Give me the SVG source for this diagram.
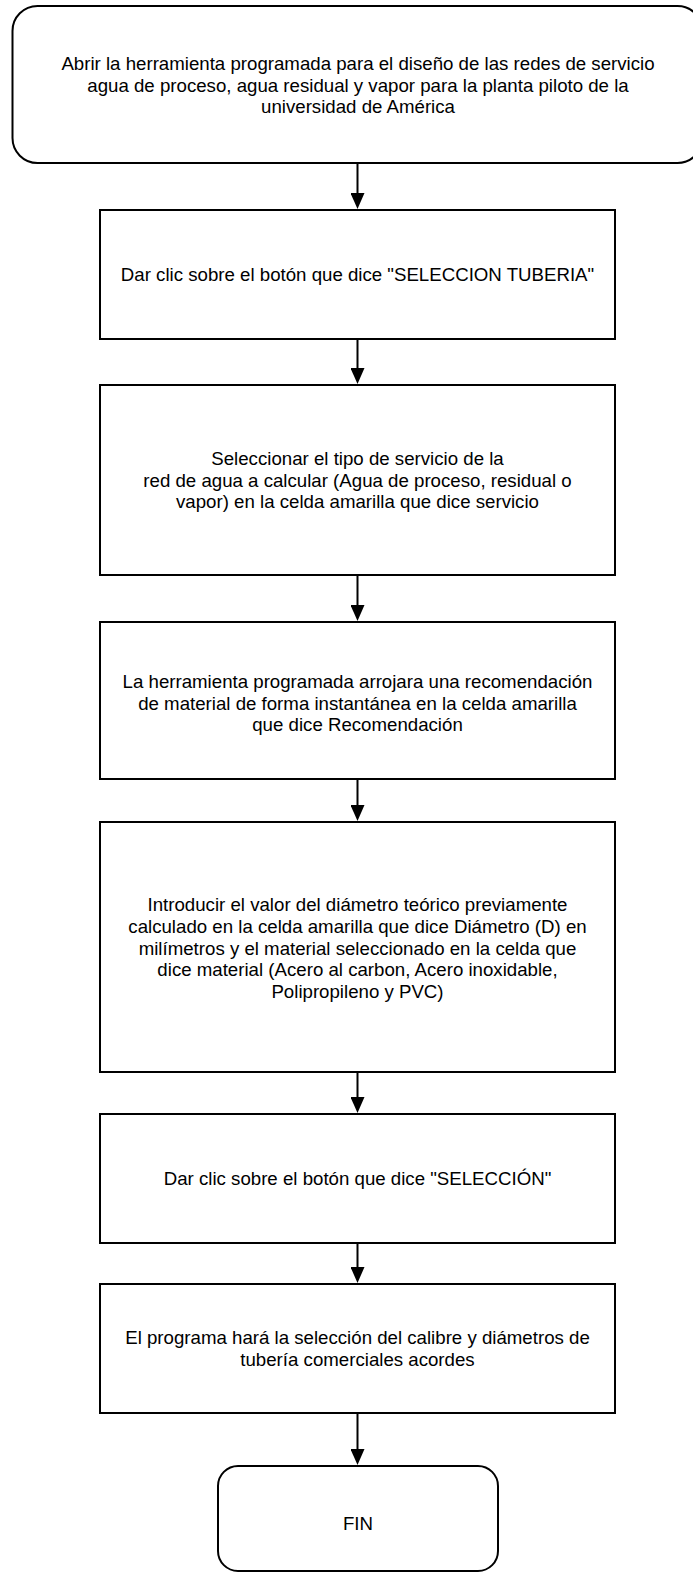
<svg xmlns="http://www.w3.org/2000/svg" width="693" height="1573" viewBox="0 0 693 1573">
<style>
  .box { fill: #ffffff; stroke: #000000; stroke-width: 2; }
  .lbl { font-family: "Liberation Sans", Arial, Helvetica, sans-serif; font-size: 18.67px; fill: #000000; text-anchor: middle; }
  .conn { stroke: #000000; stroke-width: 2; fill: none; marker-end: url(#arrow); }
</style>
<defs>
  <marker id="arrow" markerUnits="userSpaceOnUse" markerWidth="16" markerHeight="14" refX="8" refY="7" orient="auto">
    <path d="M0,0 L16,7 L0,14 Z" fill="#000000"/>
  </marker>
</defs>
<rect width="693" height="1573" fill="#ffffff"/>

<g id="n1">
  <rect class="box" x="12.5" y="6" width="690" height="157" rx="25" ry="25"/>
  <text class="lbl" x="358" y="70">Abrir la herramienta programada para el diseño de las redes de servicio</text>
  <text class="lbl" x="358" y="92">agua de proceso, agua residual y vapor para la planta piloto de la</text>
  <text class="lbl" x="358" y="113">universidad de América</text>
</g>

<g id="n2">
  <rect class="box" x="100" y="210" width="515" height="129"/>
  <text class="lbl" x="357.5" y="281">Dar clic sobre el botón que dice "SELECCION TUBERIA"</text>
</g>

<g id="n3">
  <rect class="box" x="100" y="385" width="515" height="190"/>
  <text class="lbl" x="357.5" y="465">Seleccionar el tipo de servicio de la</text>
  <text class="lbl" x="357.5" y="487">red de agua a calcular (Agua de proceso, residual o</text>
  <text class="lbl" x="357.5" y="508">vapor) en la celda amarilla que dice servicio</text>
</g>

<g id="n4">
  <rect class="box" x="100" y="622" width="515" height="157"/>
  <text class="lbl" x="357.5" y="688">La herramienta programada arrojara una recomendación</text>
  <text class="lbl" x="357.5" y="710">de material de forma instantánea en la celda amarilla</text>
  <text class="lbl" x="357.5" y="731">que dice Recomendación</text>
</g>

<g id="n5">
  <rect class="box" x="100" y="822" width="515" height="250"/>
  <text class="lbl" x="357.5" y="911">Introducir el valor del diámetro teórico previamente</text>
  <text class="lbl" x="357.5" y="933">calculado en la celda amarilla que dice Diámetro (D) en</text>
  <text class="lbl" x="357.5" y="955">milímetros y el material seleccionado en la celda que</text>
  <text class="lbl" x="357.5" y="976">dice material (Acero al carbon, Acero inoxidable,</text>
  <text class="lbl" x="357.5" y="998">Polipropileno y PVC)</text>
</g>

<g id="n6">
  <rect class="box" x="100" y="1114" width="515" height="129"/>
  <text class="lbl" x="357.5" y="1185">Dar clic sobre el botón que dice "SELECCIÓN"</text>
</g>

<g id="n7">
  <rect class="box" x="100" y="1284" width="515" height="129"/>
  <text class="lbl" x="357.5" y="1344">El programa hará la selección del calibre y diámetros de</text>
  <text class="lbl" x="357.5" y="1366">tubería comerciales acordes</text>
</g>

<g id="n8">
  <rect class="box" x="218" y="1466" width="280" height="105" rx="20" ry="20"/>
  <text class="lbl" x="358" y="1530">FIN</text>
</g>

<g id="connectors">
  <line class="conn" x1="357.5" y1="164" x2="357.5" y2="201"/>
  <line class="conn" x1="357.5" y1="340" x2="357.5" y2="376"/>
  <line class="conn" x1="357.5" y1="576" x2="357.5" y2="613"/>
  <line class="conn" x1="357.5" y1="780" x2="357.5" y2="813"/>
  <line class="conn" x1="357.5" y1="1073" x2="357.5" y2="1105"/>
  <line class="conn" x1="357.5" y1="1244" x2="357.5" y2="1275"/>
  <line class="conn" x1="357.5" y1="1414" x2="357.5" y2="1457"/>
</g>
</svg>
